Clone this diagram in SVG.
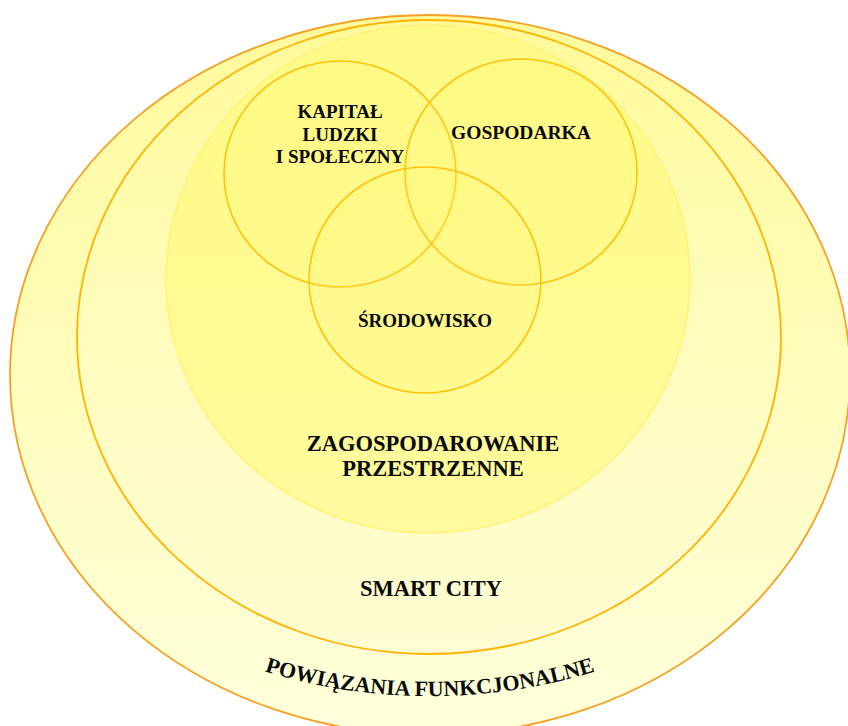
<svg xmlns="http://www.w3.org/2000/svg" width="848" height="726" viewBox="0 0 848 726">
  <style>
    .lbl { font-family: "Liberation Serif", "Times New Roman", serif; font-weight: bold; fill: #0a0a0a; text-anchor: middle; }
    .venn { fill: #FFFA70; fill-opacity: 0.14; stroke: #FFC20A; stroke-width: 1.6; }
  </style>
  <defs>
    <linearGradient id="gOuter" x1="0" y1="0" x2="0" y2="1">
      <stop offset="0" stop-color="#FFFA9C"/>
      <stop offset="0.5" stop-color="#FFFCBC"/>
      <stop offset="1" stop-color="#FFFFDC"/>
    </linearGradient>
    <linearGradient id="gSmart" x1="0" y1="0" x2="0" y2="1">
      <stop offset="0" stop-color="#FFFA98"/>
      <stop offset="0.5" stop-color="#FFFCBE"/>
      <stop offset="1" stop-color="#FFFDD2"/>
    </linearGradient>
    <linearGradient id="gZag" x1="0" y1="0" x2="0" y2="1">
      <stop offset="0" stop-color="#FFFA86"/>
      <stop offset="1" stop-color="#FFFB9E"/>
    </linearGradient>
    <path id="arcText" d="M 200 646 A 451 359 0 0 0 660 646"/>
  </defs>

  <rect width="848" height="726" fill="#FFFFFF"/>

  <g id="powiazania">
    <ellipse cx="430" cy="375" rx="420" ry="360" fill="url(#gOuter)" stroke="#F6A023" stroke-width="1.8"/>
    <text class="lbl" font-size="22"><textPath href="#arcText" startOffset="50%">POWIĄZANIA FUNKCJONALNE</textPath></text>
  </g>

  <g id="smart-city">
    <ellipse cx="429" cy="337" rx="352" ry="317" fill="url(#gSmart)" stroke="#FFB300" stroke-width="1.8"/>
    <text class="lbl" x="431" y="596" font-size="22.5">SMART CITY</text>
  </g>

  <g id="zagospodarowanie">
    <ellipse cx="428" cy="279" rx="262" ry="254" fill="url(#gZag)" stroke="#FFF27A" stroke-width="1.6"/>
    <text class="lbl" x="433" y="451" font-size="22.5">ZAGOSPODAROWANIE</text>
    <text class="lbl" x="433" y="476" font-size="22.5">PRZESTRZENNE</text>
  </g>

  <g id="kapital">
    <ellipse class="venn" cx="340" cy="174" rx="116" ry="113"/>
    <text class="lbl" x="340" y="118" font-size="19">KAPITAŁ</text>
    <text class="lbl" x="340" y="141" font-size="19">LUDZKI</text>
    <text class="lbl" x="340" y="163" font-size="19">I SPOŁECZNY</text>
  </g>

  <g id="gospodarka">
    <ellipse class="venn" cx="521" cy="172" rx="116" ry="113"/>
    <text class="lbl" x="521" y="139" font-size="19.5">GOSPODARKA</text>
  </g>

  <g id="srodowisko">
    <ellipse class="venn" cx="425" cy="280" rx="116" ry="113"/>
    <text class="lbl" x="425" y="327" font-size="19">ŚRODOWISKO</text>
  </g>

  <g id="connectors"/>
</svg>
